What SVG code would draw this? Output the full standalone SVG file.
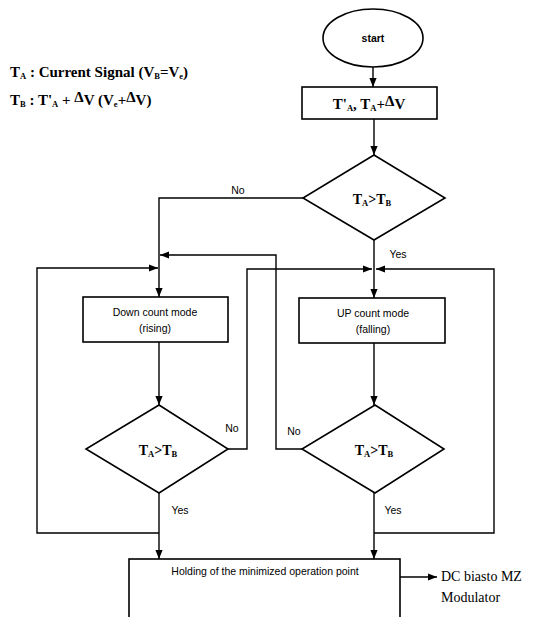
<svg xmlns="http://www.w3.org/2000/svg" width="542" height="617" viewBox="0 0 542 617">
<defs>
<marker id="ah" viewBox="0 0 10 10" refX="10" refY="5" markerWidth="9" markerHeight="9" markerUnits="userSpaceOnUse" orient="auto">
<path d="M0,1 L10,5 L0,9 Z" fill="#000"/>
</marker>
<style>
.sh{fill:#fff;stroke:#000;stroke-width:1.6}
.ln{fill:none;stroke:#000;stroke-width:1.4}
.ar{fill:none;stroke:#000;stroke-width:1.4;marker-end:url(#ah)}
.serif{font-family:"Liberation Serif","Times New Roman",serif;font-weight:bold;fill:#000}
.plain{font-family:"Liberation Serif","Times New Roman",serif;font-weight:normal;fill:#000;font-size:14px}
.sans{font-family:"Liberation Sans",Arial,sans-serif;fill:#000;font-size:10.5px}
.sub{font-size:8.5px}
</style>
</defs>
<rect width="542" height="617" fill="#fff"/>

<g id="legend">
<text class="serif" x="10" y="77" font-size="15">T<tspan class="sub" dy="2">A</tspan><tspan dy="-2"> : Current Signal (V</tspan><tspan class="sub" dy="2">B</tspan><tspan dy="-2">=V</tspan><tspan class="sub" dy="2">e</tspan><tspan dy="-2">)</tspan></text>
<text class="serif" x="10" y="105" font-size="15">T<tspan class="sub" dy="2">B</tspan><tspan dy="-2"> : T'</tspan><tspan class="sub" dy="2">A</tspan><tspan dy="-2"> + </tspan><tspan dy="-3">Δ</tspan><tspan dy="3">V (V</tspan><tspan class="sub" dy="2">e</tspan><tspan dy="-2">+</tspan><tspan dy="-3">Δ</tspan><tspan dy="3">V)</tspan></text>
</g>

<g id="connectors">
<line class="ar" x1="373" y1="67" x2="373" y2="87"/>
<line class="ar" x1="374" y1="119" x2="374" y2="155"/>
<polyline class="ar" points="303,198 159,198 159,297"/>
<line class="ar" x1="374" y1="240" x2="374" y2="298"/>
<line class="ar" x1="159" y1="342" x2="159" y2="405"/>
<line class="ar" x1="374" y1="343" x2="374" y2="405"/>
<polyline class="ar" points="228,449 247,449 247,269 372,269"/>
<polyline class="ar" points="302,449 276,449 276,255 160,255"/>
<polyline class="ar" points="159,533 37,533 37,268 158,268"/>
<polyline class="ar" points="374,533 494,533 494,269 376,269"/>
<line class="ar" x1="159" y1="493" x2="159" y2="559"/>
<line class="ar" x1="374" y1="493" x2="374" y2="559"/>
<line class="ar" x1="400" y1="577" x2="437" y2="577"/>
</g>

<g id="start">
<ellipse class="sh" cx="373" cy="38" rx="50" ry="29"/>
<text class="sans" x="373" y="42" text-anchor="middle" font-weight="bold" font-size="10">start</text>
</g>

<g id="init">
<rect class="sh" x="302" y="87" width="135" height="32"/>
<text class="serif" x="369" y="109" text-anchor="middle" font-size="15">T'<tspan class="sub" dy="2">A</tspan><tspan dy="-2">, T</tspan><tspan class="sub" dy="2">A</tspan><tspan dy="-2">+</tspan><tspan dy="-3">Δ</tspan><tspan dy="3">V</tspan></text>
</g>

<g id="decision1">
<polygon class="sh" points="374,155 445,198 374,240 303,198"/>
<text class="serif" x="372" y="204" text-anchor="middle" font-size="14">T<tspan class="sub" dy="2">A</tspan><tspan dy="-2">&gt;T</tspan><tspan class="sub" dy="2">B</tspan></text>
</g>

<g id="down">
<rect class="sh" x="83" y="297" width="145" height="45"/>
<text class="sans" x="155" y="316" text-anchor="middle">Down count mode</text>
<text class="sans" x="155" y="332" text-anchor="middle">(rising)</text>
</g>

<g id="up">
<rect class="sh" x="299" y="298" width="146" height="45"/>
<text class="sans" x="373" y="317" text-anchor="middle">UP count mode</text>
<text class="sans" x="373" y="333" text-anchor="middle">(falling)</text>
</g>

<g id="decision2">
<polygon class="sh" points="159,405 228,449 159,493 86,449"/>
<text class="serif" x="158" y="455" text-anchor="middle" font-size="14">T<tspan class="sub" dy="2">A</tspan><tspan dy="-2">&gt;T</tspan><tspan class="sub" dy="2">B</tspan></text>
</g>

<g id="decision3">
<polygon class="sh" points="375,405 444,449 375,493 302,449"/>
<text class="serif" x="374" y="455" text-anchor="middle" font-size="14">T<tspan class="sub" dy="2">A</tspan><tspan dy="-2">&gt;T</tspan><tspan class="sub" dy="2">B</tspan></text>
</g>

<g id="holding">
<rect class="sh" x="129" y="559" width="271" height="70"/>
<text class="sans" x="265" y="575" text-anchor="middle">Holding of the minimized operation point</text>
</g>

<g id="labels">
<text class="sans" x="238" y="194" text-anchor="middle">No</text>
<text class="sans" x="398" y="258" text-anchor="middle">Yes</text>
<text class="sans" x="232" y="432" text-anchor="middle">No</text>
<text class="sans" x="294" y="435" text-anchor="middle">No</text>
<text class="sans" x="180" y="514" text-anchor="middle">Yes</text>
<text class="sans" x="393" y="514" text-anchor="middle">Yes</text>
</g>

<g id="output">
<text class="plain" x="441" y="581">DC biasto MZ</text>
<text class="plain" x="441" y="602">Modulator</text>
</g>
</svg>
